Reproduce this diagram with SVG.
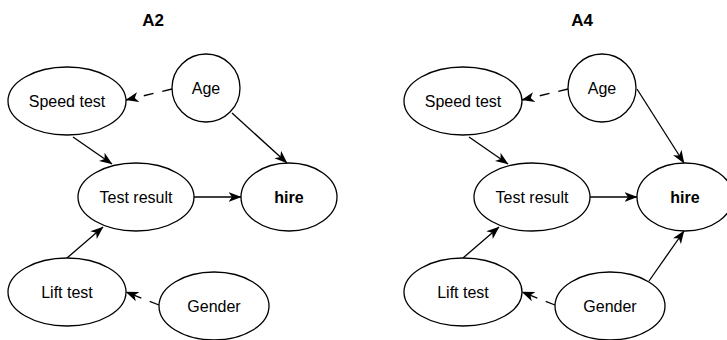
<svg xmlns="http://www.w3.org/2000/svg" width="727" height="340" viewBox="0 0 727 340">
<style>
.n{fill:#fff;stroke:#000;stroke-width:1.3}
.t{font-family:"Liberation Sans",Arial,sans-serif;font-size:16px;fill:#000;text-anchor:middle}
.b{font-weight:bold}
.ttl{font-family:"Liberation Sans",Arial,sans-serif;font-size:17px;font-weight:bold;fill:#000;text-anchor:middle}
.e{fill:none;stroke:#000;stroke-width:1.3;marker-end:url(#arr)}
.d{stroke-dasharray:10 9}
</style>
<defs>
<marker id="arr" markerUnits="userSpaceOnUse" viewBox="0 0 13 11" markerWidth="13" markerHeight="11" refX="12.5" refY="5.5" orient="auto">
<path d="M0,0.5 L13,5.5 L0,10.5 L3.5,5.5 Z" fill="#000"/>
</marker>
</defs>
<text class="ttl" x="153" y="26">A2</text>
<text class="ttl" x="582" y="26">A4</text>
<g id="edges">
<line class="e d" x1="172" y1="89" x2="126" y2="100"/>
<line class="e" x1="73" y1="137" x2="112" y2="164"/>
<line class="e" x1="232" y1="113" x2="287" y2="163"/>
<line class="e" x1="194" y1="197" x2="241" y2="197"/>
<line class="e" x1="67" y1="258" x2="103" y2="227"/>
<line class="e d" x1="159" y1="305" x2="126" y2="292"/>
<line class="e d" x1="568" y1="89" x2="522" y2="100"/>
<line class="e" x1="469" y1="137" x2="508" y2="164"/>
<line class="e" x1="637" y1="89" x2="684" y2="163"/>
<line class="e" x1="590" y1="197" x2="637" y2="197"/>
<line class="e" x1="463" y1="258" x2="499" y2="227"/>
<line class="e d" x1="555" y1="305" x2="522" y2="292"/>
<line class="e" x1="649" y1="281" x2="684" y2="231"/>
</g>
<g id="a2-speed"><ellipse class="n" cx="67" cy="101" rx="59" ry="34"/><text class="t" x="67" y="107">Speed test</text></g>
<g id="a2-age"><circle class="n" cx="206" cy="88" r="34"/><text class="t" x="206" y="94">Age</text></g>
<g id="a2-result"><ellipse class="n" cx="136" cy="197" rx="58" ry="34"/><text class="t" x="136" y="203">Test result</text></g>
<g id="a2-hire"><ellipse class="n" cx="289" cy="197" rx="48" ry="34"/><text class="t b" x="289" y="203">hire</text></g>
<g id="a2-lift"><ellipse class="n" cx="67" cy="292" rx="59" ry="34"/><text class="t" x="67" y="298">Lift test</text></g>
<g id="a2-gender"><ellipse class="n" cx="214" cy="306" rx="55" ry="34"/><text class="t" x="214" y="312">Gender</text></g>
<g id="a4-speed"><ellipse class="n" cx="463" cy="101" rx="59" ry="34"/><text class="t" x="463" y="107">Speed test</text></g>
<g id="a4-age"><circle class="n" cx="602" cy="88" r="34"/><text class="t" x="602" y="94">Age</text></g>
<g id="a4-result"><ellipse class="n" cx="532" cy="197" rx="58" ry="34"/><text class="t" x="532" y="203">Test result</text></g>
<g id="a4-hire"><ellipse class="n" cx="685" cy="197" rx="48" ry="34"/><text class="t b" x="685" y="203">hire</text></g>
<g id="a4-lift"><ellipse class="n" cx="463" cy="292" rx="59" ry="34"/><text class="t" x="463" y="298">Lift test</text></g>
<g id="a4-gender"><ellipse class="n" cx="610" cy="306" rx="55" ry="34"/><text class="t" x="610" y="312">Gender</text></g>
</svg>
